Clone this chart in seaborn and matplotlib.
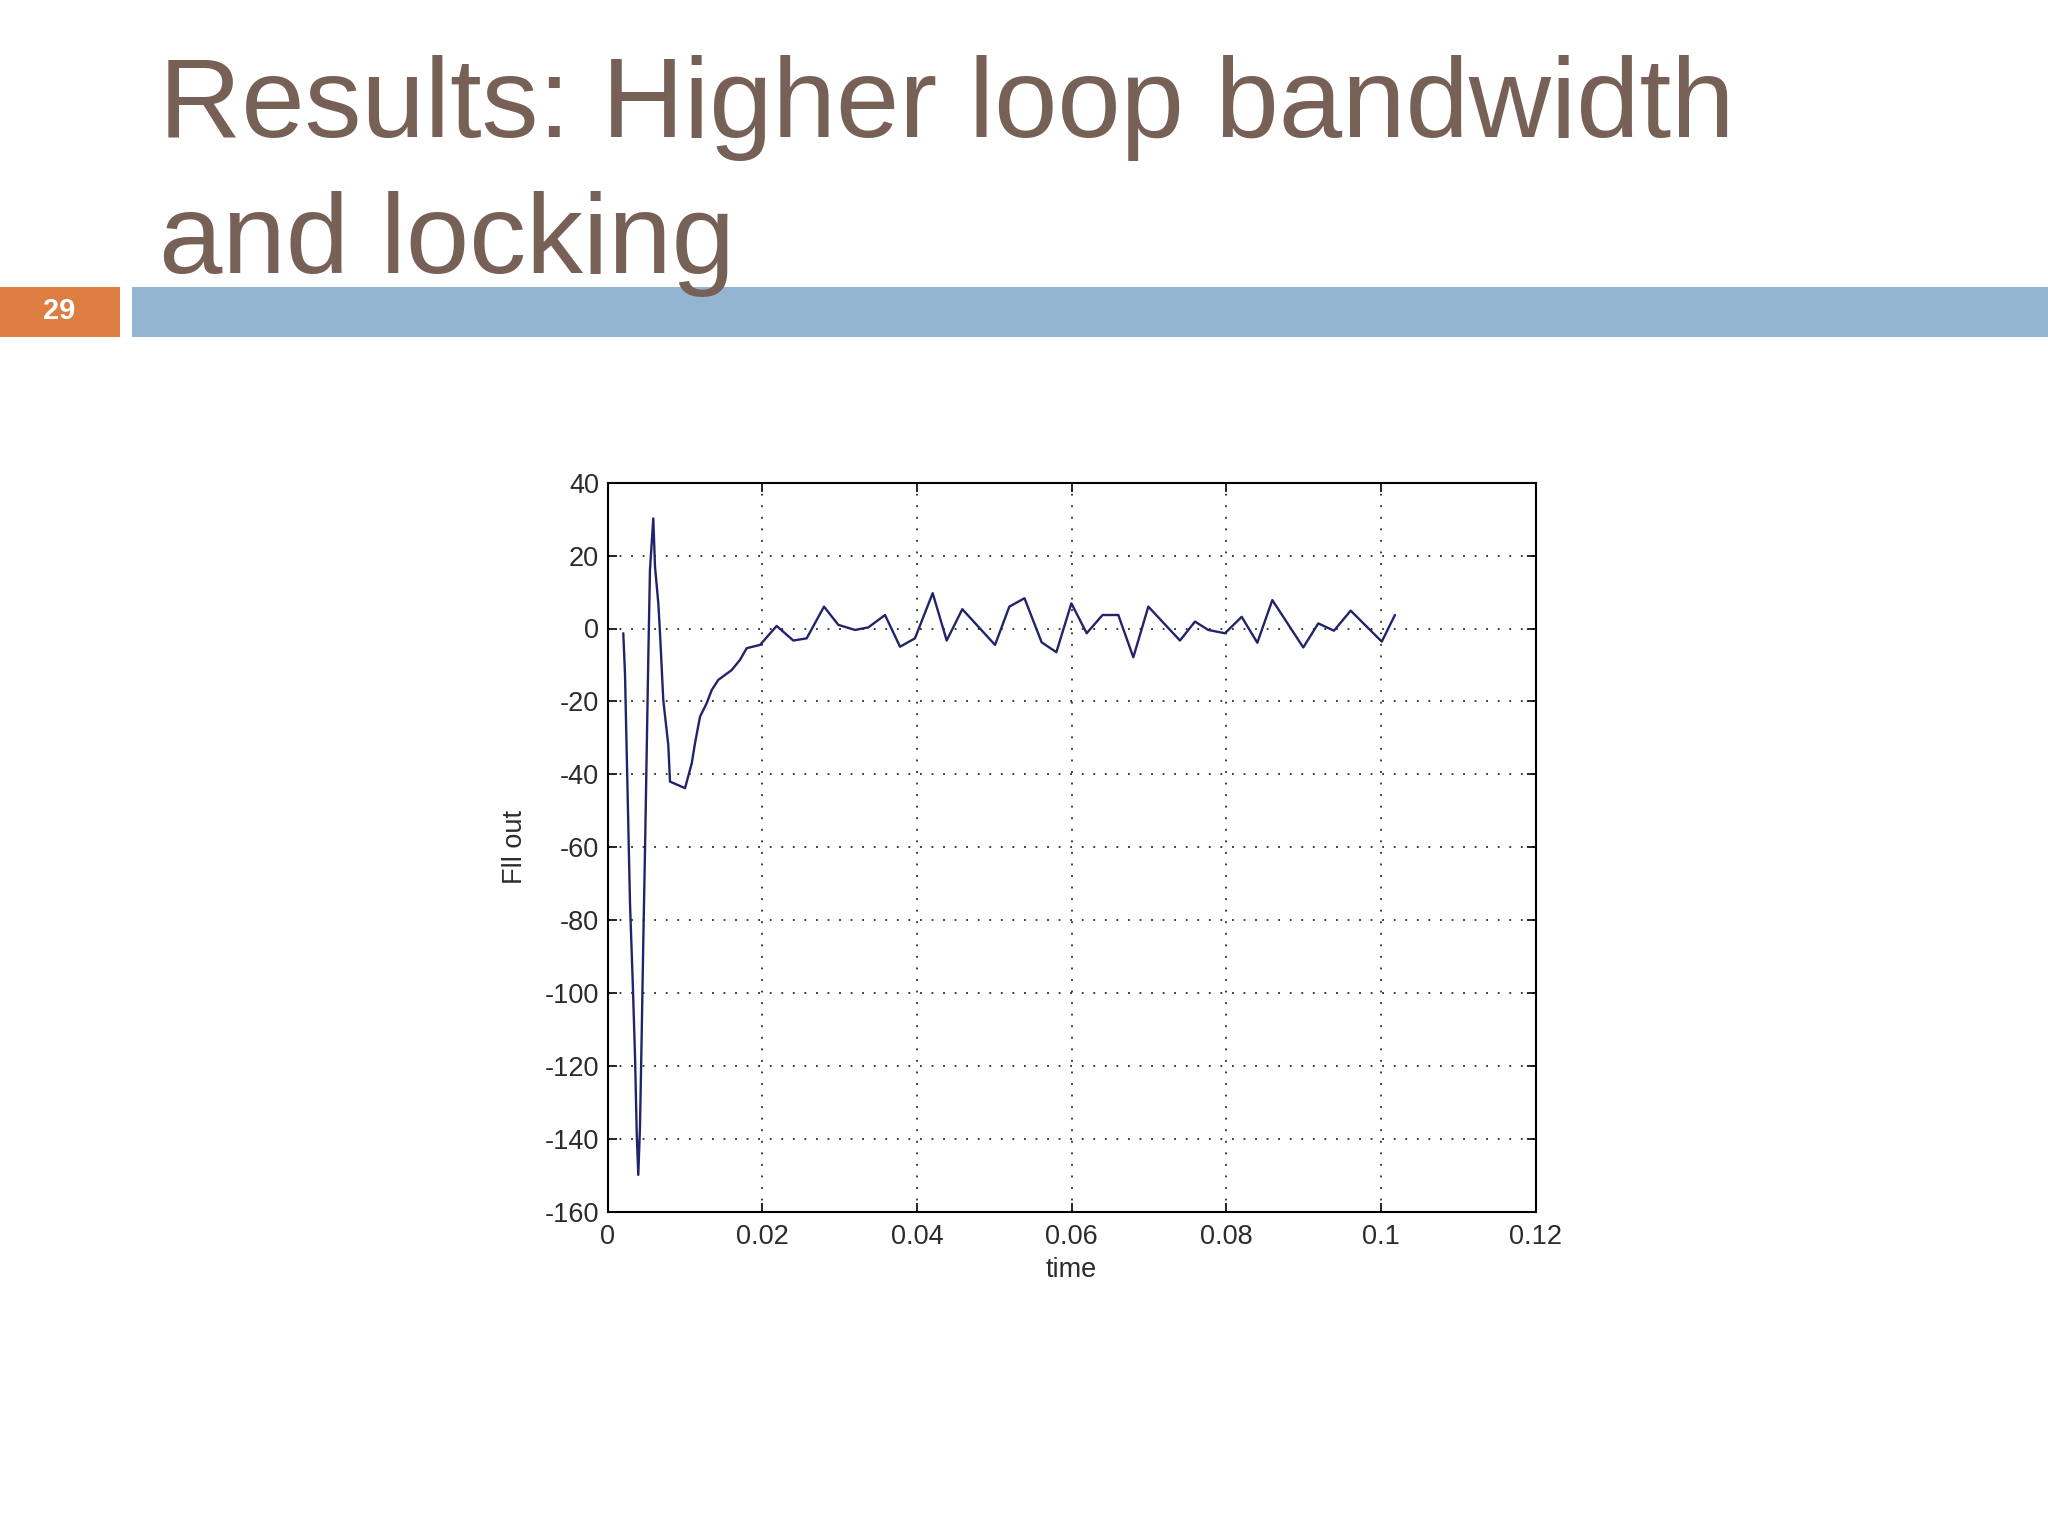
import numpy as np
import pandas as pd
import matplotlib
matplotlib.use("Agg")
import matplotlib.pyplot as plt
import seaborn as sns

# ---- data ----
time_s = [0.00204, 0.00226, 0.00291, 0.00326, 0.00356, 0.00378, 0.00398, 0.00420,
          0.00442, 0.00463, 0.00485, 0.00527, 0.00549, 0.00592, 0.00614, 0.00657,
          0.00679, 0.00721, 0.00786, 0.00808, 0.01002, 0.01089, 0.01131, 0.01196,
          0.01282, 0.01347, 0.01432, 0.01606, 0.01713, 0.01800, 0.01972, 0.02187,
          0.02402, 0.02575, 0.02799, 0.02984, 0.03200, 0.03372, 0.03588, 0.03782,
          0.03975, 0.04204, 0.04385, 0.04587, 0.05010, 0.05195, 0.05391, 0.05613,
          0.05803, 0.05997, 0.06195, 0.06400, 0.06604, 0.06798, 0.06992, 0.07401,
          0.07595, 0.07767, 0.07983, 0.08199, 0.08401, 0.08595, 0.08995, 0.09189,
          0.09392, 0.09608, 0.10010, 0.10180]
fll_out = [-1.3, -12.3, -75.4, -96.9, -117.5, -138.5, -149.9, -136.7,
           -111.5, -85.5, -60.8, -8.6, 16.1, 30.2, 17.0, 6.9,
           -1.3, -19.6, -32.0, -42.0, -43.8, -37.0, -31.5, -24.2,
           -20.5, -16.9, -14.1, -11.4, -8.6, -5.4, -4.5, 0.7,
           -3.3, -2.7, 6.0, 1.0, -0.4, 0.3, 3.7, -5.0,
           -2.7, 9.7, -3.3, 5.3, -4.5, 6.0, 8.3, -3.8,
           -6.5, 6.9, -1.3, 3.7, 3.7, -7.9, 6.0, -3.3,
           1.9, -0.4, -1.3, 3.2, -3.9, 7.8, -5.2, 1.4,
           -0.6, 4.9, -3.6, 3.7]
x_ticks = [0, 0.02, 0.04, 0.06, 0.08, 0.1, 0.12]
x_tick_labels = ["0", "0.02", "0.04", "0.06", "0.08", "0.1", "0.12"]
y_ticks = [-160, -140, -120, -100, -80, -60, -40, -20, 0, 20, 40]
title_line1 = "Results: Higher loop bandwidth"
title_line2 = "and locking"
slide_number = "29"
x_label = "time"
y_label = "Fll out"

df = pd.DataFrame({"time": time_s, "Fll out": fll_out})

sns.set_theme(style="white")
plt.rcParams["font.family"] = ["Liberation Sans", "DejaVu Sans"]

W, H = 2048, 1536
fig = plt.figure(figsize=(W / 100, H / 100), dpi=100)
fig.patch.set_facecolor("white")

# ---- slide decorations ----
title_color = "#776157"
fig.text(159 / W, 1 - 137 / H, title_line1, fontsize=82, color=title_color,
         ha="left", va="baseline")
fig.text(159 / W, 1 - 273 / H, title_line2, fontsize=82, color=title_color,
         ha="left", va="baseline")

bar_y0 = 1 - 337 / H
bar_h = 50 / H
fig.patches.append(plt.Rectangle((0, bar_y0), 120 / W, bar_h, transform=fig.transFigure,
                                 facecolor="#df7e43", edgecolor="none", zorder=0))
fig.patches.append(plt.Rectangle((132 / W, bar_y0), 1 - 132 / W, bar_h, transform=fig.transFigure,
                                 facecolor="#93b5d1", edgecolor="none", zorder=0))
fig.text(59 / W, 1 - 311 / H, slide_number, fontsize=21, fontweight="bold", color="white",
         ha="center", va="center")

# ---- chart ----
left, right = 607.5 / W, 1535.7 / W
bottom, top = 1 - 1211.7 / H, 1 - 482.7 / H
ax = fig.add_axes([left, bottom, right - left, top - bottom])
ax.set_facecolor("white")

sns.lineplot(data=df, x="time", y="Fll out", ax=ax, sort=False, estimator=None,
             color="#23236a", linewidth=1.7)

ax.set_xlim(0, 0.12)
ax.set_ylim(-160, 40)
ax.set_xticks(x_ticks)
ax.set_xticklabels(x_tick_labels)
ax.set_yticks(y_ticks)
ax.set_yticklabels([str(v) for v in y_ticks])

ax.grid(True, color="#2a2a2a", linestyle=(0, (1, 5.4)), linewidth=1.3)
for s in ax.spines.values():
    s.set_visible(True)
    s.set_color("black")
    s.set_linewidth(1.5)

ax.tick_params(axis="both", which="both", direction="in", length=6.5, width=1.2,
               color="black", labelsize=19.5, labelcolor="#2b2b2b",
               top=True, right=True, bottom=True, left=True)
ax.tick_params(axis="x", pad=9)
ax.tick_params(axis="y", pad=6)

ax.set_xlabel(x_label, fontsize=19.5, color="#2b2b2b", labelpad=5)
ax.set_ylabel(y_label, fontsize=19.5, color="#2b2b2b", labelpad=12)

fig.savefig("out.png", dpi=100, facecolor="white")
